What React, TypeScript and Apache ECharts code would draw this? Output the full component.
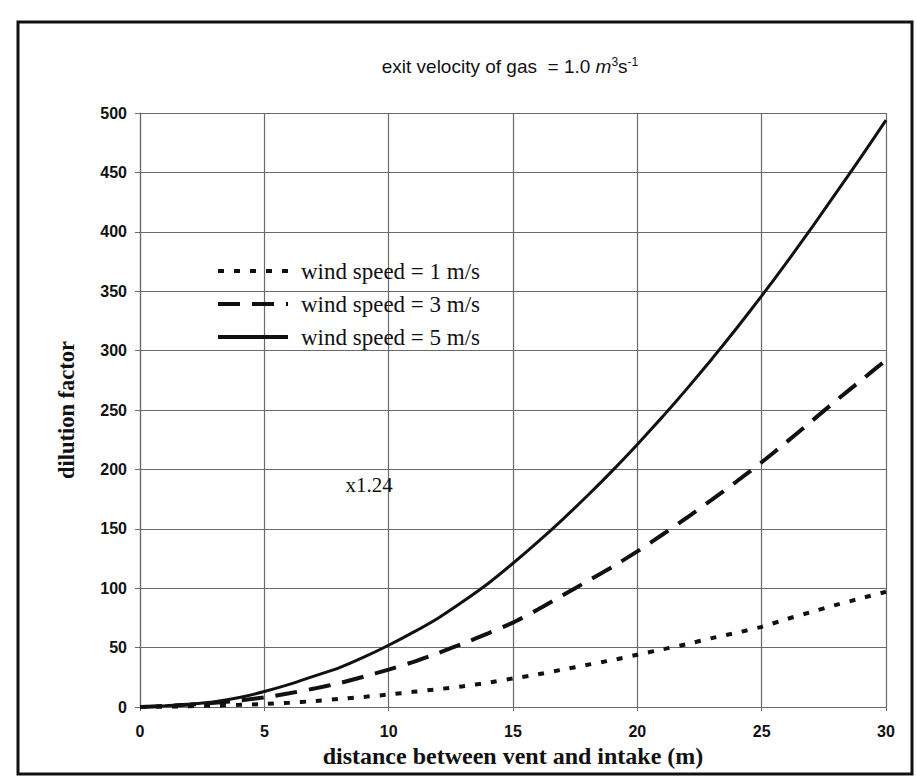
import React, { useEffect, useRef } from "react";
import * as echarts from "echarts";

const distance = [0, 1, 2, 3, 4, 5, 6, 7, 8, 9, 10, 11, 12, 13, 14, 15, 16, 17, 18, 19, 20, 21, 22, 23, 24, 25, 26, 27, 28, 29, 30];
const windSpeed1 = [0, 0.3, 0.7, 1.2, 1.8, 2.5, 3.6, 5, 6.8, 8.5, 10.5, 12.8, 15, 17.5, 20.5, 24, 27.5, 31.5, 35.5, 39.5, 44, 48.5, 53, 58, 62.5, 67.5, 74, 80, 86, 91.5, 97];
const windSpeed3 = [0, 1, 2, 3.5, 5.5, 8, 11.5, 15.5, 20, 25.5, 31.5, 38, 45.5, 53.5, 62, 71, 82, 94, 106, 118, 131, 145, 159.5, 174.5, 190, 206, 223, 240.5, 258, 275, 292];
const windSpeed5 = [0, 1, 2.5, 4.5, 8, 13, 19, 26, 33, 42, 52, 63, 75, 89, 104, 121, 139, 158, 178, 199, 221, 244, 268, 293, 319, 346, 374, 403, 433, 463, 494];
const seriesNames = ["wind speed = 1 m/s", "wind speed = 3 m/s", "wind speed = 5 m/s"];
const annotation = "x1.24";

const ink = "#111";
const gridColor = "#6a6a6a";

export default function App() {
  const ref = useRef<HTMLDivElement>(null);
  useEffect(() => {
    if (!ref.current) return;
    const chart = echarts.init(ref.current, null, { renderer: "svg" });
    const pairs = (vals: number[]) => distance.map((d, i) => [d, vals[i]]);
    chart.setOption({
      animation: false,
      backgroundColor: "#fff",
      title: {
        text: "exit velocity of gas  = 1.0 {it|m}{sup|3}s{sup|-1}",
        left: 510,
        top: 56,
        padding: 0,
        textAlign: "center",
        textStyle: {
          fontFamily: "Liberation Sans",
          fontSize: 19,
          fontWeight: "normal",
          color: ink,
          rich: {
            it: { fontFamily: "Liberation Sans", fontSize: 19, fontStyle: "italic", color: ink },
            sup: { fontFamily: "Liberation Sans", fontSize: 12, verticalAlign: "top", color: ink, padding: [0, 0, 8, 0] },
          },
        },
      },
      grid: { left: 140, right: 30, top: 113, bottom: 74, containLabel: false },
      legend: {
        orient: "vertical",
        left: 211,
        top: 254,
        itemWidth: 70,
        itemHeight: 14,
        itemGap: 9,
        data: seriesNames,
        itemStyle: { opacity: 0 },
        lineStyle: { width: 4 },
        textStyle: {
          fontFamily: "Liberation Serif",
          fontSize: 23,
          lineHeight: 24,
          color: ink,
          padding: [0, 0, 0, 8],
        },
      },
      xAxis: {
        type: "value",
        min: 0,
        max: 30,
        interval: 5,
        name: "distance between vent and intake (m)",
        nameLocation: "middle",
        nameGap: 33,
        nameTextStyle: { fontFamily: "Liberation Serif", fontWeight: "bold", fontSize: 24, color: ink },
        axisLine: { show: true, lineStyle: { color: gridColor, width: 1.2 } },
        axisTick: { show: true, length: 4, lineStyle: { color: gridColor } },
        axisLabel: { margin: 16, fontFamily: "Liberation Sans", fontSize: 16, fontWeight: "bold", color: ink },
        splitLine: { show: true, lineStyle: { color: gridColor, width: 1.2 } },
      },
      yAxis: {
        type: "value",
        min: 0,
        max: 500,
        interval: 50,
        name: "dilution factor",
        nameLocation: "middle",
        nameGap: 62,
        nameTextStyle: { fontFamily: "Liberation Serif", fontWeight: "bold", fontSize: 22.5, color: ink },
        axisLine: { show: true, lineStyle: { color: gridColor, width: 1.2 } },
        axisTick: { show: true, length: 5, lineStyle: { color: gridColor } },
        axisLabel: { margin: 13, fontFamily: "Liberation Sans", fontSize: 16, fontWeight: "bold", color: ink },
        splitLine: { show: true, lineStyle: { color: gridColor, width: 1.2 } },
      },
      series: [
        {
          name: seriesNames[0],
          type: "line",
          data: pairs(windSpeed1),
          showSymbol: false,
          symbol: "none",
          smooth: 0.2,
          lineStyle: { color: ink, width: 4, type: [6, 10] },
          itemStyle: { color: ink },
        },
        {
          name: seriesNames[1],
          type: "line",
          data: pairs(windSpeed3),
          showSymbol: false,
          symbol: "none",
          smooth: 0.2,
          lineStyle: { color: ink, width: 4, type: [22, 12] },
          itemStyle: { color: ink },
        },
        {
          name: seriesNames[2],
          type: "line",
          data: pairs(windSpeed5),
          showSymbol: false,
          symbol: "none",
          smooth: 0.2,
          lineStyle: { color: ink, width: 3, type: "solid" },
          itemStyle: { color: ink },
        },
      ],
      graphic: [
        {
          type: "rect",
          shape: { x: 18, y: 22, width: 894, height: 752 },
          style: { fill: "none", stroke: ink, lineWidth: 3 },
          z: 100,
        },
        {
          type: "text",
          x: 369,
          y: 485,
          style: {
            text: annotation,
            fontFamily: "Liberation Serif",
            fontSize: 21,
            fill: ink,
            textAlign: "center",
            textVerticalAlign: "middle",
          },
          z: 100,
        },
      ],
    });
    return () => chart.dispose();
  }, []);
  return <div ref={ref} style={{ position: "fixed", left: 0, top: 0, width: 916, height: 781 }} />;
}
